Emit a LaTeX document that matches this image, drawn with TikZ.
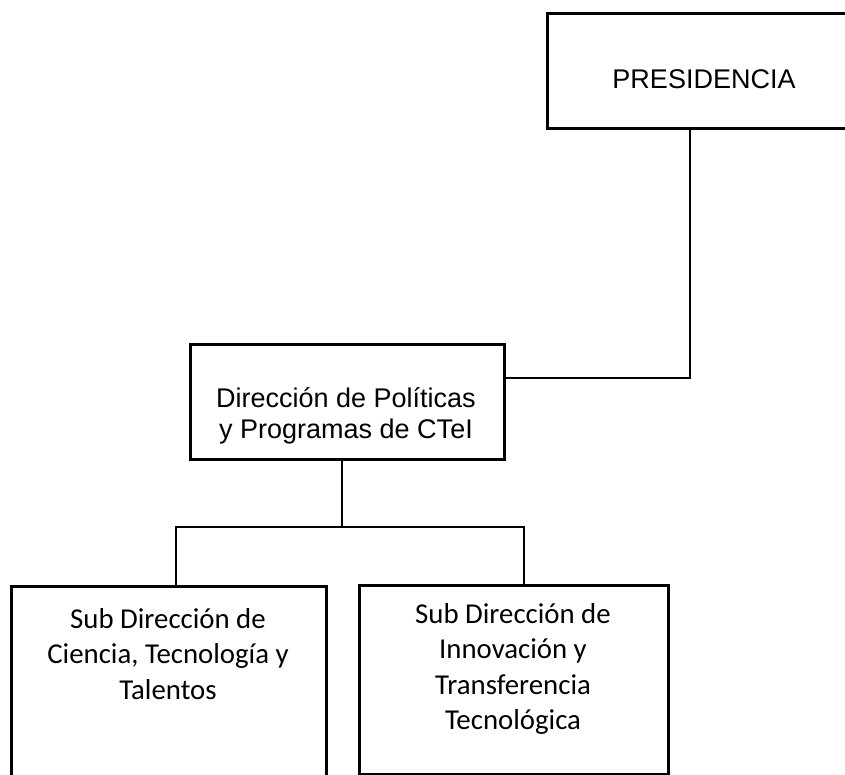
\documentclass[tikz,border=0pt]{standalone}
\usepackage{fontspec}
\newfontfamily\arialf{Liberation Sans}
\newfontfamily\calibrif{Carlito}
\begin{document}
\begin{tikzpicture}[x=1pt,y=-1pt,
  orgbox/.style={draw=black, line width=2.7pt, fill=white, inner sep=0pt, anchor=north west},
  arialtext/.style={font=\arialf\fontsize{27}{31}\selectfont, align=center, inner sep=0pt},
  calibritext/.style={font=\calibrif\fontsize{28.8}{35.5}\selectfont, align=center, inner sep=0pt},
  link/.style={draw=black, line width=2.3pt}]
\useasboundingbox[fill=white] (0,0) rectangle (845,774);
% boxes
\node[orgbox, minimum width=320pt, minimum height=115pt] (pres) at (546,12) {};
\node[orgbox, minimum width=314pt, minimum height=115pt] (dir) at (189,343) {};
\node[orgbox, minimum width=315pt, minimum height=200pt] (sub1) at (10,585) {};
\node[orgbox, minimum width=309pt, minimum height=189pt] (sub2) at (358,584) {};
% texts
\node[arialtext] (presT) at (704,79) {PRESIDENCIA};
\node[arialtext] (dirT) at (346,416) {Dirección de Políticas\\y Programas de CTeI};
\node[calibritext] (sub1T) at (168,654) {Sub Dirección de\\Ciencia, Tecnología y\\Talentos};
\node[calibritext] (sub2T) at (513,669) {Sub Dirección de\\Innovación y\\Transferencia\\Tecnológica};
% connectors
\coordinate (pj) at (690,378);
\draw[link] (pres.south -| pj) -- (pj) -- (dir.east |- pj);
\coordinate (jc) at (342,527);
\coordinate (jl) at (176,527);
\coordinate (jr) at (524,527);
\draw[link] (dir.south -| jc) -- (jc);
\draw[link] (sub1.north -| jl) -- (jl) -- (jr) -- (sub2.north -| jr);
\end{tikzpicture}
\end{document}
